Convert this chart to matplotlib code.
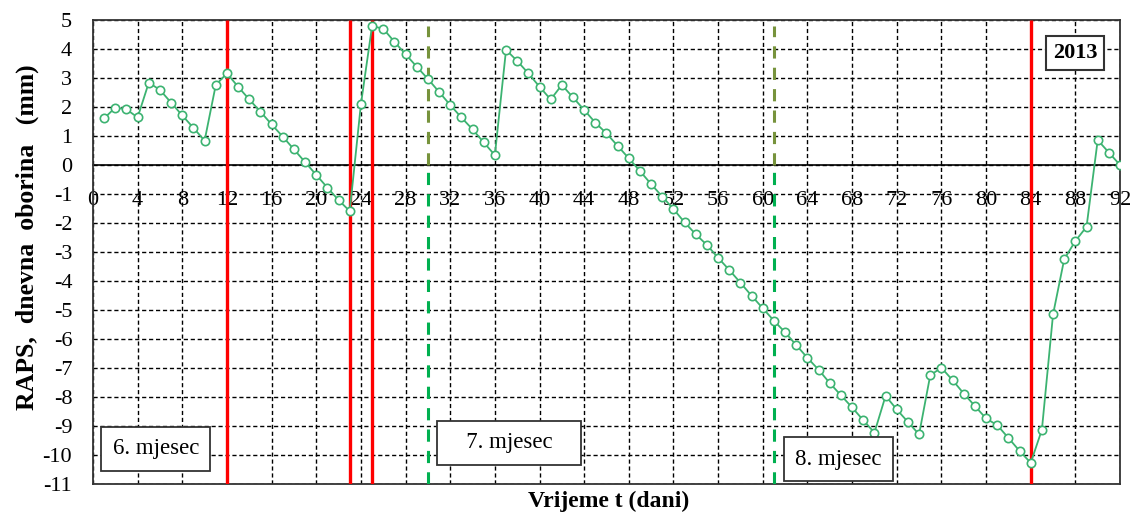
import numpy as np
import matplotlib.pyplot as plt

# RAPS values, one per day (1..92)
days = np.arange(1, 93)
raps = [1.61, 1.98, 1.92, 1.64, 2.84, 2.59, 2.15, 1.71, 1.28, 0.84,
        2.76, 3.16, 2.70, 2.26, 1.84, 1.40, 0.98, 0.54, 0.10, -0.34,
        -0.78, -1.21, -1.59, 2.09, 4.79, 4.70, 4.25, 3.82, 3.39, 2.97,
        2.52, 2.07, 1.64, 1.23, 0.78, 0.34, 3.97, 3.59, 3.16, 2.70,
        2.26, 2.76, 2.33, 1.90, 1.46, 1.09, 0.66, 0.23, -0.21, -0.66,
        -1.09, -1.52, -1.98, -2.39, -2.76, -3.20, -3.62, -4.06, -4.51, -4.94,
        -5.37, -5.77, -6.21, -6.65, -7.06, -7.52, -7.94, -8.36, -8.80, -9.23,
        -7.96, -8.43, -8.86, -9.29, -7.25, -6.99, -7.42, -7.88, -8.31, -8.74,
        -8.97, -9.41, -9.86, -10.27, -9.13, -5.15, -3.25, -2.62, -2.13, 0.86,
        0.43, 0.0]

x_ticks = list(range(0, 93, 4))
y_ticks = list(range(-11, 6))
red_lines = [12, 23, 25, 84]
green_lines = [30, 61]

plt.rcParams['font.family'] = 'Liberation Serif'
plt.rcParams['axes.unicode_minus'] = False

fig = plt.figure(figsize=(11.31, 5.17), dpi=100)
ax = fig.add_axes([0.0822, 0.0638, 0.9081, 0.8975])

ax.set_xlim(0, 92)
ax.set_ylim(-11, 5)

# grid
ax.set_xticks(x_ticks)
ax.set_yticks(y_ticks)
ax.grid(True, color='k', linestyle=(0, (3, 2)), linewidth=1)
ax.tick_params(axis='x', length=0, labelbottom=False)
ax.tick_params(axis='y', length=0, pad=15, labelsize=16)
for s in ax.spines.values():
    s.set_linewidth(1.3)
    s.set_color('#333333')

# zero line carries the x tick labels
sec = ax.secondary_xaxis(0, transform=ax.transData)
sec.set_xticks(x_ticks)
sec.tick_params(length=0, pad=19, labelsize=16)
sec.spines['bottom'].set_linewidth(1.2)
sec.spines['bottom'].set_color('k')

# month boundaries
ax.vlines(red_lines, -11, 5, colors='#ff0000', linewidth=2.4, zorder=3)
ax.vlines(green_lines, 0, 4.8, colors='#77933c', linewidth=2.2,
          linestyles=(0, (4, 3)), zorder=3)
ax.vlines(green_lines, -11, 0, colors='#00b050', linewidth=2.2,
          linestyles=(0, (4, 3)), zorder=3)

# data series
ax.plot(days, raps, color='#3cb371', linewidth=1.3, marker='o', markersize=6,
        markerfacecolor='white', markeredgecolor='#3cb371', markeredgewidth=1.2,
        zorder=4)

box = dict(boxstyle='square,pad=0.5', facecolor='white', edgecolor='#333333',
           linewidth=1.3)
ax.text(5.62, -9.78, '6. mjesec', fontsize=16.5, ha='center', va='center', bbox=box, zorder=5)
ax.text(37.3, -9.58, '   7. mjesec   ', fontsize=16.5, ha='center', va='center', bbox=box, zorder=5)
ax.text(66.8, -10.14, '8. mjesec', fontsize=16.5, ha='center', va='center', bbox=box, zorder=5)
ax.text(88.0, 3.86, '2013', fontsize=16, fontweight='bold', ha='center', va='center',
        bbox=dict(boxstyle='square,pad=0.3', facecolor='white', edgecolor='#333333',
                  linewidth=1.5), zorder=5)

ax.set_ylabel('RAPS,  dnevna  oborina   (mm)', fontsize=18.5, fontweight='bold')
ax.yaxis.set_label_coords(-0.053, 0.532)
ax.set_xlabel('Vrijeme t (dani)', fontsize=17, fontweight='bold')
ax.xaxis.set_label_coords(0.502, -0.014)

fig.savefig('out.png', dpi=100)
